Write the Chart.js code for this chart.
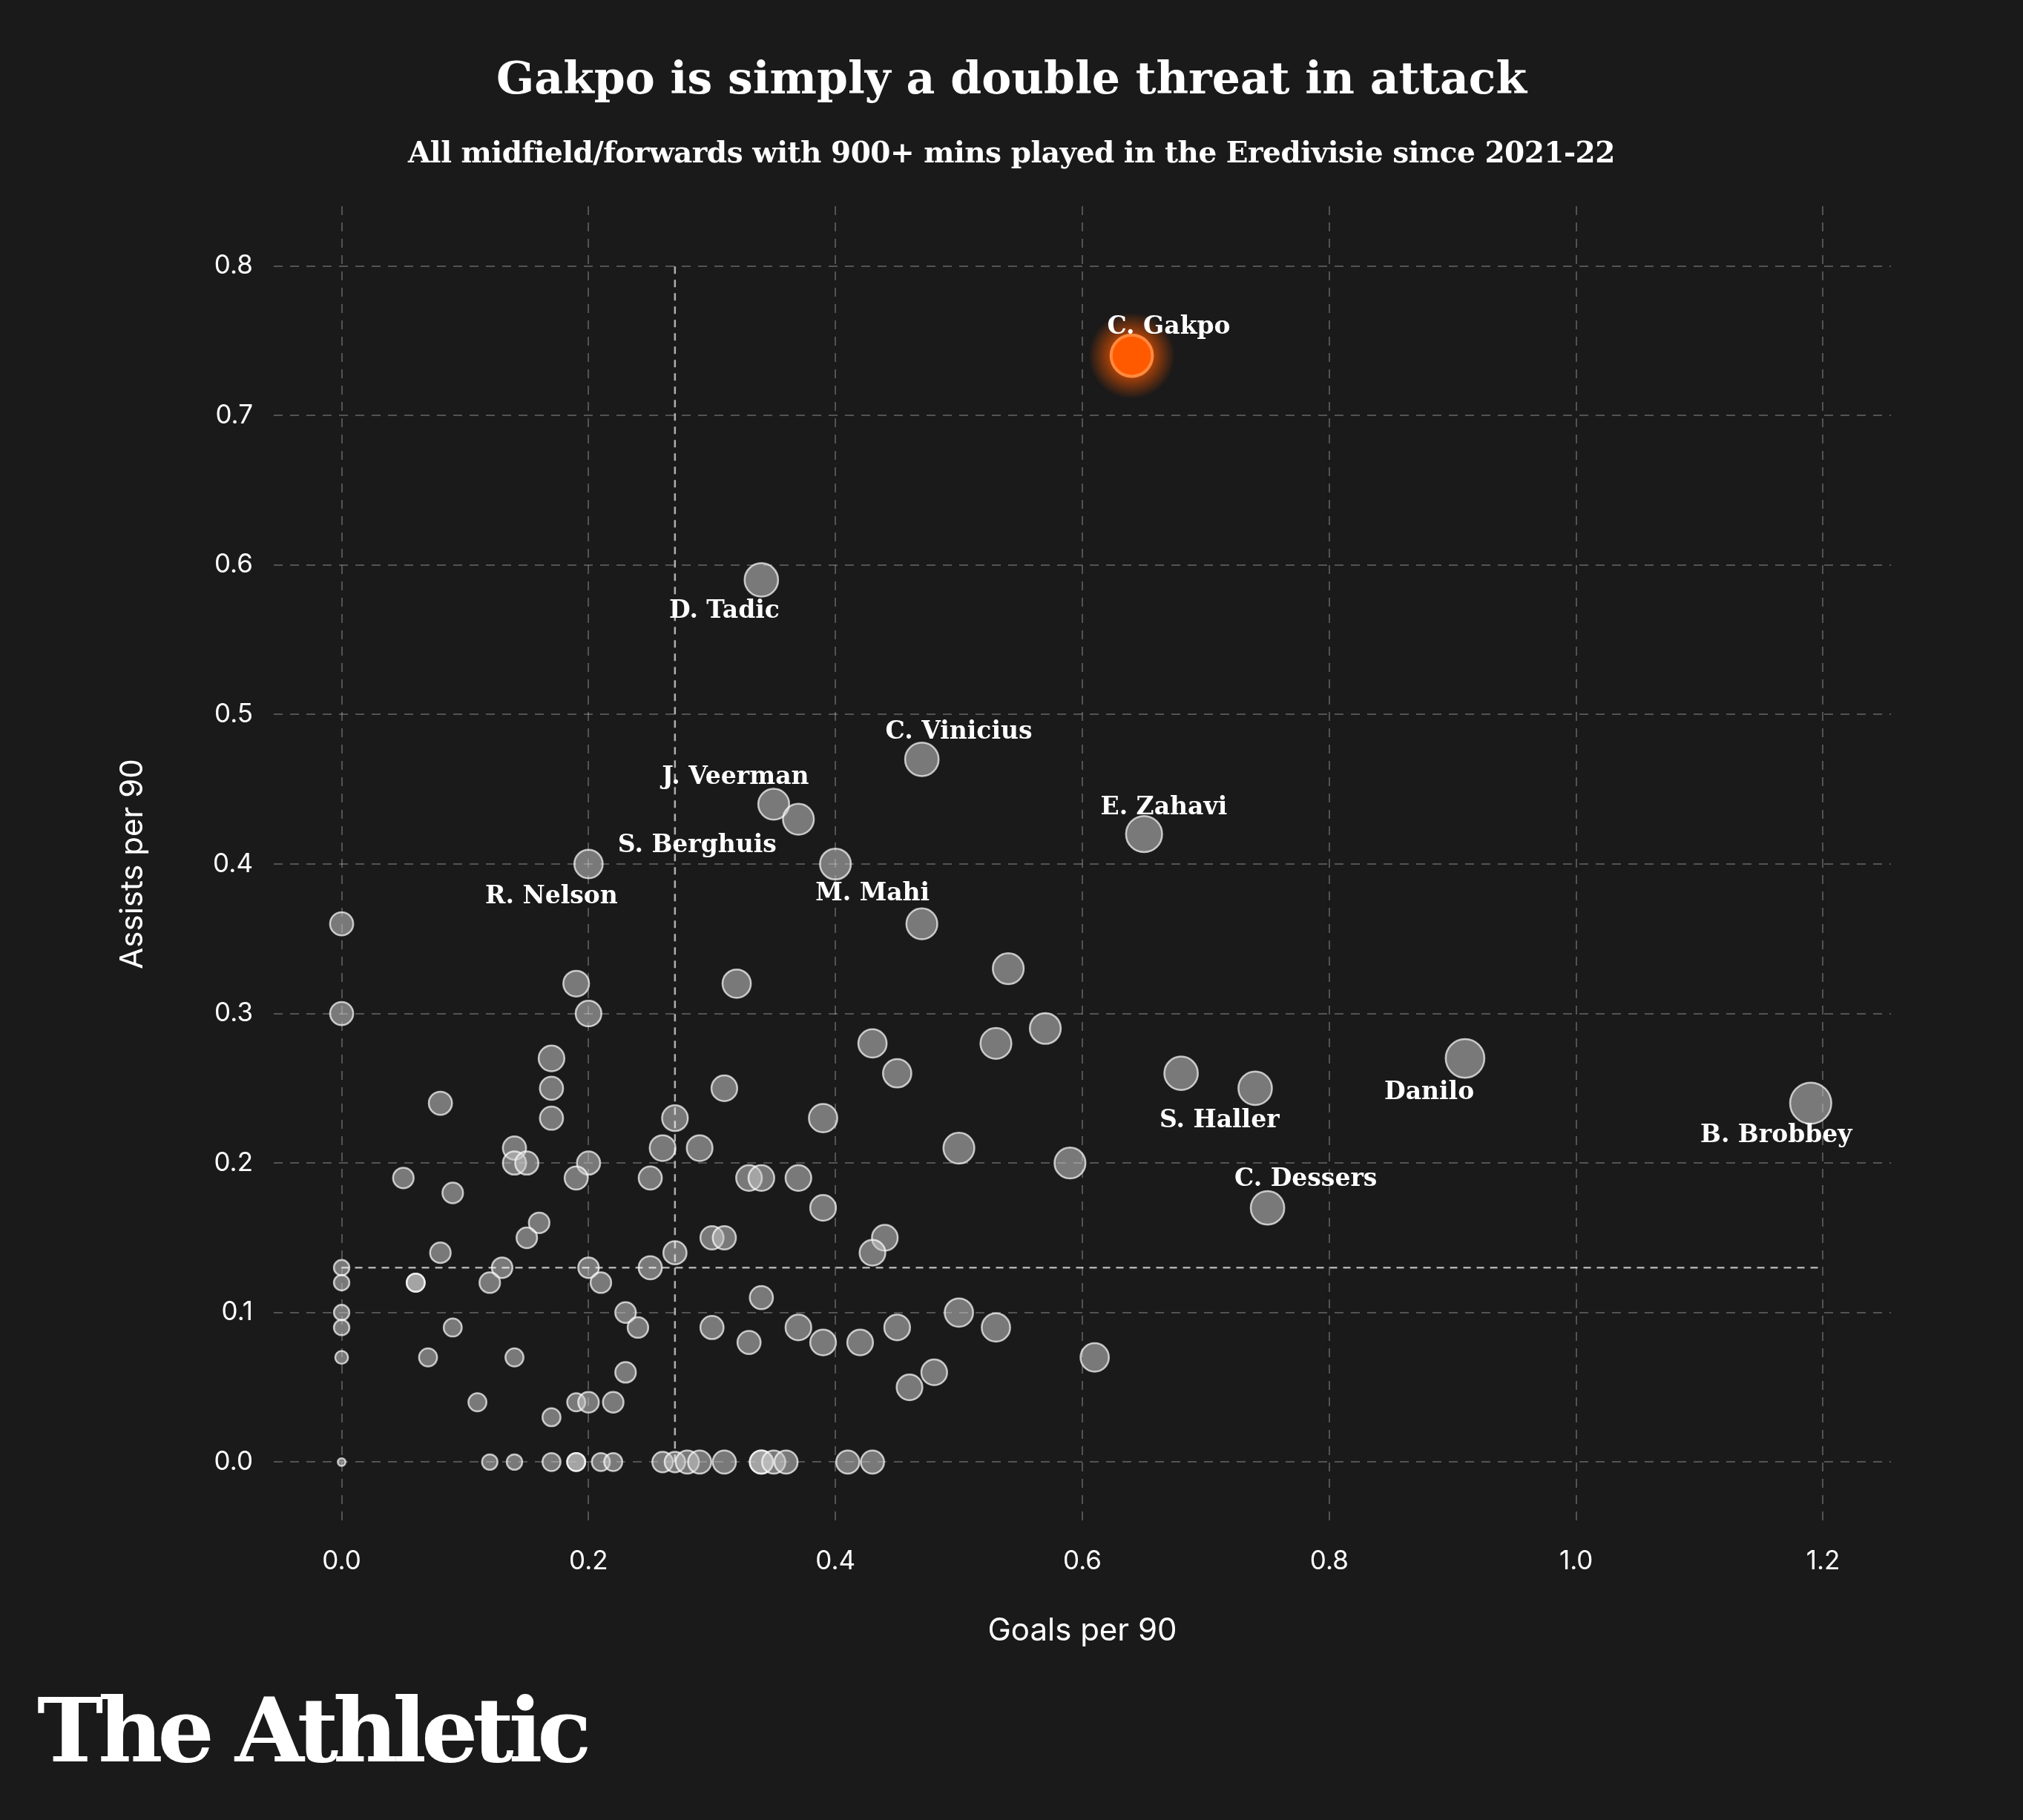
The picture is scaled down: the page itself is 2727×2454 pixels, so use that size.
<!DOCTYPE html>
<html>
<head>
<meta charset="utf-8">
<script src="https://cdn.jsdelivr.net/npm/chart.js@4.4.1/dist/chart.umd.min.js"></script>
<style>
  html, body { margin: 0; padding: 0; background: #1a1a1a; }
  #wrap { position: relative; width: 2727px; height: 2454px; }
  .t { position: absolute; left: 0; width: 2727px; text-align: center; color: #fff; font-family: "DejaVu Serif", serif; font-weight: bold; }
  #title { top: 70px; font-size: 60px; }
  #sub { top: 182px; font-size: 39px; letter-spacing: -0.5px; }
  #logo { position: absolute; left: 50px; top: 2262px; color: #fff; font-family: "DejaVu Serif", serif; font-weight: bold; font-size: 120px; letter-spacing: -7px; }
  canvas { position: absolute; left: 0; top: 0; }
</style>
</head>
<body>
<div id="wrap">
  <canvas id="c" width="2727" height="2454"></canvas>
  <div class="t" id="title">Gakpo is simply a double threat in attack</div>
  <div class="t" id="sub">All midfield/forwards with 900+ mins played in the Eredivisie since 2021-22</div>
  <div id="logo">The Athletic</div>
</div>
<script>
// goals per 90, assists per 90, bubble size (minutes played, relative)
const goals = [0.34,0.47,0.35,0.37,0.65,0.40,0.20,0.47,0,0.54,0.32,0.19,0,0.20,0.57,0.43,0.53,0.17,0.91,0.45,0.68,0.74,0.31,0.17,0.08,1.19,0.27,0.39,0.17,0.14,0.26,0.29,0.50,0.14,0.15,0.20,0.59,0.05,0.19,0.25,0.33,0.34,0.37,0.09,0.39,0.75,0.16,0.15,0.30,0.31,0.44,0.08,0.27,0.43,0,0.13,0.20,0.25,0,0.06,0.06,0.12,0.21,0.34,0,0.23,0.50,0,0.09,0.24,0.30,0.37,0.45,0.53,0.33,0.39,0.42,0,0.07,0.14,0.61,0.23,0.48,0.46,0.11,0.19,0.20,0.22,0.17,0,0.12,0.14,0.17,0.19,0.19,0.21,0.22,0.26,0.27,0.28,0.29,0.31,0.34,0.34,0.35,0.36,0.41,0.43];
const assists = [0.59,0.47,0.44,0.43,0.42,0.40,0.40,0.36,0.36,0.33,0.32,0.32,0.30,0.30,0.29,0.28,0.28,0.27,0.27,0.26,0.26,0.25,0.25,0.25,0.24,0.24,0.23,0.23,0.23,0.21,0.21,0.21,0.21,0.20,0.20,0.20,0.20,0.19,0.19,0.19,0.19,0.19,0.19,0.18,0.17,0.17,0.16,0.15,0.15,0.15,0.15,0.14,0.14,0.14,0.13,0.13,0.13,0.13,0.12,0.12,0.12,0.12,0.12,0.11,0.10,0.10,0.10,0.09,0.09,0.09,0.09,0.09,0.09,0.09,0.08,0.08,0.08,0.07,0.07,0.07,0.07,0.06,0.06,0.05,0.04,0.04,0.04,0.04,0.03,0,0,0,0,0,0,0,0,0,0,0,0,0,0,0,0,0,0,0];
const sizes = [13,13,12,12,14,12,11,12,9,12,11,10,9,10,12,11,12,10,15,11,13,13,10,9,9,16,10,11,9,9,10,10,12,9,9,9,12,8,9,9,10,10,10,8,10,13,8,8,9,9,10,8,9,10,6,8,8,9,6,7,7,8,8,9,6,8,11,6,7,8,9,10,10,11,9,10,10,5,7,7,11,8,10,10,7,7,8,8,7,3,6,6,7,7,7,7,7,8,8,9,9,9,9,9,9,9,9,9];
const gakpo = { x: 0.64, y: 0.74, r: 16 };
const labelNames = ['C. Gakpo','D. Tadic','C. Vinicius','J. Veerman','E. Zahavi','S. Berghuis','R. Nelson','M. Mahi','Danilo','S. Haller','B. Brobbey','C. Dessers'];
const labelX = [0.67,0.31,0.50,0.319,0.666,0.288,0.170,0.430,0.881,0.711,1.162,0.781];
const labelY = [0.759,0.569,0.488,0.458,0.4375,0.412,0.378,0.380,0.247,0.228,0.218,0.189];
const avgGoals = 0.27;
const avgAssists = 0.13;
const xTicks = [0, 0.2, 0.4, 0.6, 0.8, 1.0, 1.2];
const yTicks = [0, 0.1, 0.2, 0.3, 0.4, 0.5, 0.6, 0.7, 0.8];

const S = 1.739;
const sansFont = '"Inter", "Noto Sans", sans-serif';

// etiquetas de jugadores + brillo de Gakpo
const labelPlugin = {
  id: 'labels',
  beforeDatasetsDraw(chart) {
    const { ctx, scales: { x, y } } = chart;
    const px = x.getPixelForValue(gakpo.x), py = y.getPixelForValue(gakpo.y);
    const g = ctx.createRadialGradient(px, py, gakpo.r * S * 0.8, px, py, gakpo.r * S * 2.1);
    g.addColorStop(0, 'rgba(255,90,0,0.75)');
    g.addColorStop(1, 'rgba(255,90,0,0)');
    ctx.save();
    ctx.fillStyle = g;
    ctx.beginPath();
    ctx.arc(px, py, gakpo.r * S * 2.1, 0, Math.PI * 2);
    ctx.fill();
    ctx.restore();
  },
  afterDatasetsDraw(chart) {
    const { ctx, scales: { x, y } } = chart;
    ctx.save();
    ctx.fillStyle = '#fff';
    ctx.font = 'bold 33px "DejaVu Serif", serif';
    ctx.textAlign = 'center';
    ctx.textBaseline = 'middle';
    labelNames.forEach((n, i) => ctx.fillText(n, x.getPixelForValue(labelX[i]), y.getPixelForValue(labelY[i])));
    ctx.restore();
  }
};

new Chart(document.getElementById('c'), {
  type: 'bubble',
  data: {
    datasets: [
      { type: 'line', data: [{ x: avgGoals, y: 0 }, { x: avgGoals, y: 0.8 }], borderColor: 'rgba(255,255,255,0.65)', borderWidth: 2.5, borderDash: [10, 8], pointRadius: 0 },
      { type: 'line', data: [{ x: 0, y: avgAssists }, { x: 1.2, y: avgAssists }], borderColor: 'rgba(255,255,255,0.65)', borderWidth: 2.5, borderDash: [10, 8], pointRadius: 0 },
      { data: goals.map((g, i) => ({ x: g, y: assists[i], r: sizes[i] * S })), backgroundColor: 'rgba(200,200,200,0.55)', borderColor: 'rgba(255,255,255,0.7)', borderWidth: 2.5 },
      { data: [{ x: gakpo.x, y: gakpo.y, r: gakpo.r * S }], backgroundColor: '#ff5a00', borderColor: '#ff8a40', borderWidth: 4 }
    ]
  },
  options: {
    responsive: false,
    animation: false,
    layout: { padding: { top: 278, right: 178, left: 150, bottom: 225 } },
    plugins: { legend: { display: false }, tooltip: { enabled: false } },
    scales: {
      x: {
        type: 'linear', min: -0.055, max: 1.255,
        afterBuildTicks: s => { s.ticks = xTicks.map(v => ({ value: v })); },
        afterFit: s => { s.height = 177; },
        grid: { color: 'rgba(255,255,255,0.25)', lineWidth: 2, drawTicks: false },
        border: { display: false, dash: [12, 10] },
        ticks: { color: '#fff', font: { family: sansFont, size: 35 }, padding: 32, callback: v => v.toFixed(1) },
        title: { display: true, text: 'Goals per 90', color: '#fff', font: { family: sansFont, size: 42 }, padding: { top: 28 } }
      },
      y: {
        type: 'linear', min: -0.04, max: 0.84,
        afterBuildTicks: s => { s.ticks = yTicks.map(v => ({ value: v })); },
        afterFit: s => { s.width = 219; },
        grid: { color: 'rgba(255,255,255,0.25)', lineWidth: 2, drawTicks: false },
        border: { display: false, dash: [12, 10] },
        ticks: { color: '#fff', font: { family: sansFont, size: 35 }, padding: 28, callback: v => v.toFixed(1) },
        title: { display: true, text: 'Assists per 90', color: '#fff', font: { family: sansFont, size: 42 }, padding: { bottom: 40 } }
      }
    }
  },
  plugins: [labelPlugin]
});
</script>
</body>
</html>
